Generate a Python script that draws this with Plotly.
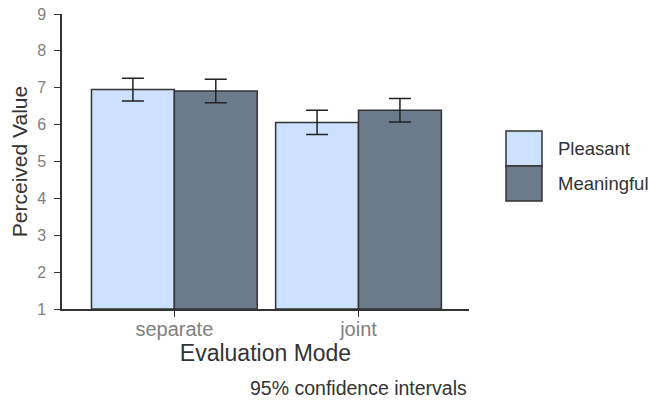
import plotly.graph_objects as go

categories = ["separate", "joint"]
series_names = ["Pleasant", "Meaningful"]
pleasant = [6.95, 6.06]
meaningful = [6.91, 6.39]
pleasant_ci = [0.31, 0.33]
meaningful_ci = [0.32, 0.32]
y_ticks = [1, 2, 3, 4, 5, 6, 7, 8, 9]

colors = ["#cce0ff", "#6c7b8b"]

fig = go.Figure()
for name, vals, ci, col in zip(series_names, [pleasant, meaningful],
                               [pleasant_ci, meaningful_ci], colors):
    fig.add_trace(go.Bar(
        x=categories, y=[v - 1 for v in vals], base=1, name=name,
        marker=dict(color=col, line=dict(color="#333333", width=1.5)),
        error_y=dict(type="data", array=ci, visible=True, color="#222222",
                     thickness=1.5, width=11),
        showlegend=False,
    ))

fig.update_layout(
    width=650, height=402,
    margin=dict(l=62, r=181, t=14, b=93, autoexpand=False),
    paper_bgcolor="white", plot_bgcolor="white",
    barmode="group", bargap=0.1, bargroupgap=0,
    font=dict(family="Liberation Sans, Arial, sans-serif"),
    xaxis=dict(
        range=[-0.61, 1.6], showline=True, linecolor="#333333", linewidth=1.5,
        ticks="outside", ticklen=6, tickcolor="#333333", automargin=False,
        tickfont=dict(size=20, color="#808080"), ticklabelstandoff=-5,
        title=dict(text="Evaluation Mode", font=dict(size=23, color="#333333"), standoff=0),
        showgrid=False, zeroline=False,
    ),
    yaxis=dict(
        range=[1, 9], tickvals=y_ticks, showline=True, linecolor="#333333", linewidth=1.5,
        ticks="outside", ticklen=6, tickcolor="#333333", automargin=False,
        tickfont=dict(size=16, color="#808080"), ticklabelstandoff=5,
        ticklabeloverflow="allow",
        title=dict(text="Perceived Value", font=dict(size=21, color="#333333"), standoff=4),
        showgrid=False, zeroline=False,
    ),
)

# legend drawn manually (larger keys than Plotly's built-in legend)
for i, (name, col) in enumerate(zip(series_names, colors)):
    y1 = 1 - (131 - 14) / 295 - i * (35 / 295)
    y0 = y1 - 35 / 295
    fig.add_shape(type="rect", xref="paper", yref="paper",
                  x0=(506 - 62) / 407, x1=(542 - 62) / 407, y0=y0, y1=y1,
                  fillcolor=col, line=dict(color="#333333", width=1.5))
    fig.add_annotation(xref="paper", yref="paper", x=(556 - 62) / 407, y=(y0 + y1) / 2,
                       text=name, showarrow=False, xanchor="left", yanchor="middle",
                       font=dict(size=18.5, color="#333333"))

fig.add_annotation(xref="paper", yref="paper", x=1.0, y=-(388 - 309) / 295,
                   text="95% confidence intervals", showarrow=False,
                   xanchor="right", yanchor="middle",
                   font=dict(size=19.5, color="#333333"))

# remove the page's default 8px body margin so the 650x402 figure fills the window
fig.write_html("out.html", config={"displayModeBar": False},
               post_script="document.body.style.margin='0';")
